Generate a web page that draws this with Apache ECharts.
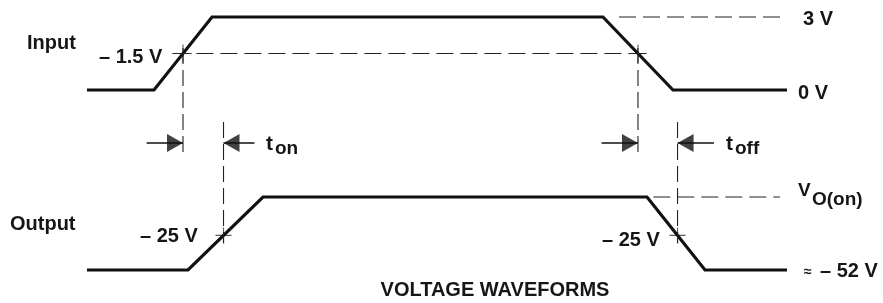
<!DOCTYPE html>
<html>
<head>
<meta charset="utf-8">
<script src="https://cdn.jsdelivr.net/npm/echarts@6/dist/echarts.min.js"></script>
<style>
html,body{margin:0;padding:0;background:#fff;}
#chart{width:883px;height:303px;}
</style>
</head>
<body>
<div id="chart"></div>
<script>
// ---- data (time in arbitrary units 0..100, voltage in V) ----
const INPUT_T = [0, 9.57, 17.86, 73.71, 83.71, 100];
const INPUT_V = [0, 0, 3, 3, 0, 0];
const OUTPUT_T = [0, 14.43, 25.14, 80.0, 88.29, 100];
const OUTPUT_V = [-52, -52, 5, 5, -52, -52];   // high level = V_O(on) (nominal)
const INPUT_LEVELS = [3, 0];
const INPUT_THRESHOLD = 1.5;
const OUTPUT_THRESHOLD = -25;
const OUTPUT_HIGH = 5;
const REF3V_T = [76, 99];
const REF_THRESH_T = [12.2, 80.3];
const REF_VOON_T = [80.9, 99];
const LABELS = {
  input: 'Input', output: 'Output', th1: '– 1.5 V', v3: '3 V', v0: '0 V',
  th2: '– 25 V', voV: 'V', voSub: 'O(on)', approx: '≈', v52: '– 52 V',
  t: 't', on: 'on', off: 'off', title: 'VOLTAGE WAVEFORMS'
};

// crossing times found on the waveforms
function crossings(T, V, level) {
  const out = [];
  for (let i = 0; i < T.length - 1; i++) {
    const a = V[i], b = V[i + 1];
    if ((a - level) * (b - level) < 0) {
      out.push(T[i] + (level - a) / (b - a) * (T[i + 1] - T[i]));
    }
  }
  return out;
}
const inX = crossings(INPUT_T, INPUT_V, INPUT_THRESHOLD);
const outX = crossings(OUTPUT_T, OUTPUT_V, OUTPUT_THRESHOLD);

const zip = (T, V) => T.map((t, i) => [t, V[i]]);

const INK = '#111';
const DASH = '#222';
const FONT = '"Liberation Sans", Arial, Helvetica, sans-serif';

// layout levels in the (hidden) timing grid, 0..1
const ARROW_Y = 0.5;
const EXT_IN = [0.952, 0.452];
const EXT_OUT = [0.6, 0.024];
const TAIL = 5.2;

const chart = echarts.init(document.getElementById('chart'), null, {renderer: 'canvas'});

const plus = 'path://M9,0L9,18M0,9L18,9';
const triR = 'path://M0,0L16,9L0,18Z';
const triL = 'path://M16,0L0,9L16,18Z';

function seg(pts, xi, yi, style) {
  return {
    type: 'line', xAxisIndex: xi, yAxisIndex: yi, data: pts, symbol: 'none',
    clip: false, silent: true, animation: false,
    lineStyle: Object.assign({color: DASH, width: 1.1, type: [17, 7]}, style || {})
  };
}

const series = [
  // waveforms
  {type: 'line', xAxisIndex: 0, yAxisIndex: 0, data: zip(INPUT_T, INPUT_V), symbol: 'none',
   clip: false, animation: false, lineStyle: {color: INK, width: 3.2, join: 'miter', cap: 'butt'}},
  {type: 'line', xAxisIndex: 1, yAxisIndex: 1, data: zip(OUTPUT_T, OUTPUT_V), symbol: 'none',
   clip: false, animation: false, lineStyle: {color: INK, width: 3.2, join: 'miter', cap: 'butt'}},
  // dashed reference levels
  seg(REF3V_T.map(t => [t, INPUT_LEVELS[0]]), 0, 0),
  seg(REF_THRESH_T.map(t => [t, INPUT_THRESHOLD]), 0, 0),
  seg(REF_VOON_T.map(t => [t, OUTPUT_HIGH]), 1, 1),
  // vertical extension lines
  seg([[inX[0], EXT_IN[0]], [inX[0], EXT_IN[1]]], 2, 2, {type: [16, 6]}),
  seg([[inX[1], EXT_IN[0]], [inX[1], EXT_IN[1]]], 2, 2, {type: [16, 6]}),
  seg([[outX[0], EXT_OUT[0]], [outX[0], EXT_OUT[1]]], 2, 2, {type: [16, 6]}),
  seg([[outX[1], EXT_OUT[0]], [outX[1], EXT_OUT[1]]], 2, 2, {type: [16, 6]}),
  // arrow shafts
  seg([[inX[0] - TAIL, ARROW_Y], [inX[0], ARROW_Y]], 2, 2, {type: 'solid', color: INK, width: 1.5}),
  seg([[outX[0], ARROW_Y], [outX[0] + TAIL * 0.85, ARROW_Y]], 2, 2, {type: 'solid', color: INK, width: 1.5}),
  seg([[inX[1] - TAIL, ARROW_Y], [inX[1], ARROW_Y]], 2, 2, {type: 'solid', color: INK, width: 1.5}),
  seg([[outX[1], ARROW_Y], [outX[1] + TAIL, ARROW_Y]], 2, 2, {type: 'solid', color: INK, width: 1.5}),
  // arrow heads
  {type: 'scatter', xAxisIndex: 2, yAxisIndex: 2, silent: true, animation: false,
   symbol: triR, symbolSize: [16, 18], symbolOffset: [-8, 0], itemStyle: {color: INK},
   data: [[inX[0], ARROW_Y], [inX[1], ARROW_Y]]},
  {type: 'scatter', xAxisIndex: 2, yAxisIndex: 2, silent: true, animation: false,
   symbol: triL, symbolSize: [16, 18], symbolOffset: [8, 0], itemStyle: {color: INK},
   data: [[outX[0], ARROW_Y], [outX[1], ARROW_Y]]},
  // crossing markers
  {type: 'scatter', xAxisIndex: 0, yAxisIndex: 0, silent: true, animation: false, clip: false,
   symbol: plus, symbolSize: 18, itemStyle: {color: 'none', borderColor: '#333', borderWidth: 1.1},
   data: inX.map(t => [t, INPUT_THRESHOLD])},
  {type: 'scatter', xAxisIndex: 1, yAxisIndex: 1, silent: true, animation: false, clip: false,
   symbol: plus, symbolSize: 16, itemStyle: {color: 'none', borderColor: '#333', borderWidth: 1.1},
   data: outX.map(t => [t, OUTPUT_THRESHOLD])}
];

function txt(text, x, y, size, extra) {
  return Object.assign({
    type: 'text', x: x, y: y, silent: true,
    style: {text: text, fill: '#161616', fontSize: size, fontWeight: 'bold', fontFamily: FONT,
            textAlign: 'left', textVerticalAlign: 'middle', align: 'left', verticalAlign: 'middle'}
  }, extra || {});
}

const graphic = [
  txt(LABELS.input, 27, 43, 20),
  txt(LABELS.th1, 99, 57, 20),
  txt(LABELS.v3, 803, 19, 20),
  txt(LABELS.v0, 798, 93, 20),
  txt(LABELS.t, 266, 144, 21),
  txt(LABELS.on, 275, 149, 19),
  txt(LABELS.t, 726, 144, 21),
  txt(LABELS.off, 735, 149, 19),
  txt(LABELS.output, 10, 224, 20),
  txt(LABELS.th2, 140, 236, 20),
  txt(LABELS.th2, 602, 240, 20),
  txt(LABELS.voV, 798, 191, 19),
  txt(LABELS.voSub, 812, 200, 19),
  txt(LABELS.approx, 804, 272, 14),
  txt(LABELS.v52, 820, 271, 20),
  {type: 'text', x: 495, y: 290, silent: true,
   style: {text: LABELS.title, fill: '#161616', fontSize: 20, fontWeight: 'bold', fontFamily: FONT,
           textAlign: 'center', align: 'center', textVerticalAlign: 'middle', verticalAlign: 'middle'}}
];

const hiddenX = i => ({type: 'value', gridIndex: i, min: 0, max: 100, show: false});
const hiddenY = (i, mn, mx) => ({type: 'value', gridIndex: i, min: mn, max: mx, show: false});

chart.setOption({
  animation: false,
  backgroundColor: '#ffffff',
  grid: [
    {left: 87, width: 700, top: 17, height: 73},
    {left: 87, width: 700, top: 197, height: 73},
    {left: 87, width: 700, top: 38, height: 210}
  ],
  xAxis: [hiddenX(0), hiddenX(1), hiddenX(2)],
  yAxis: [hiddenY(0, 0, 3), hiddenY(1, -52, OUTPUT_HIGH), hiddenY(2, 0, 1)],
  series: series,
  graphic: graphic
});
</script>
</body>
</html>
